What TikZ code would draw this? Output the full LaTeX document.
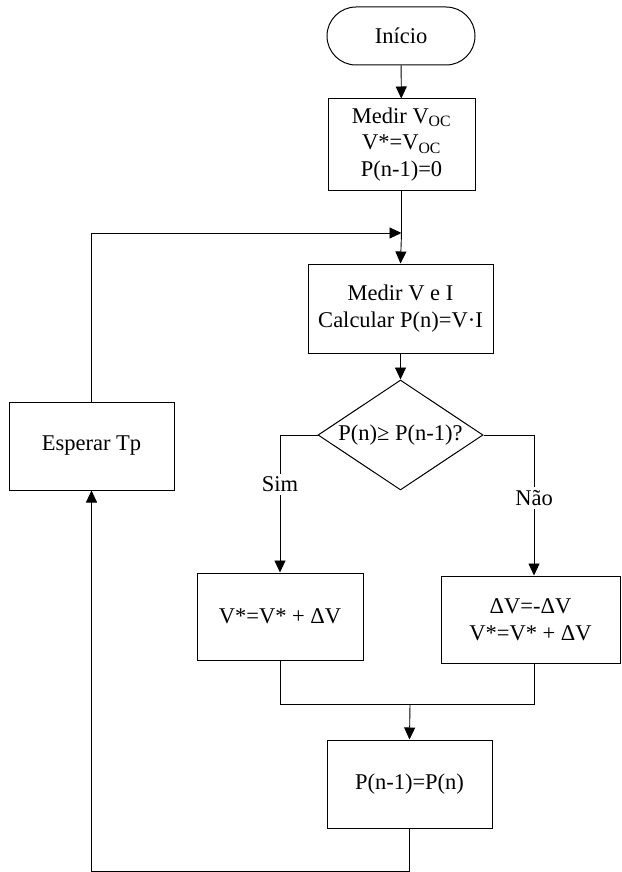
\documentclass[tikz,border=0pt]{standalone}
\usepackage{fontspec}
\setmainfont{Liberation Serif}
\usetikzlibrary{arrows.meta,shapes.geometric}
\begin{document}
\begin{tikzpicture}[x=1pt,y=-1pt,
  font=\fontsize{22.5}{26.5}\selectfont,
  box/.style={draw,line width=1pt,inner sep=0pt,align=center},
  conn/.style={line width=0.9pt},
  arr/.style={conn,-{Triangle[length=12pt,width=11pt]}},
  lbl/.style={fill=white,inner sep=3pt}]
\useasboundingbox (0,0) rectangle (621,872);
\node[box,rounded corners=29pt,minimum width=148pt,minimum height=58pt] (start) at (401,36) {Início};
\node[box,minimum width=147pt,minimum height=91pt] (b1) at (401.5,144.5) {Medir V\textsubscript{OC}\\V*=V\textsubscript{OC}\\P(n-1)=0};
\node[box,minimum width=185pt,minimum height=89pt] (b2) at (400.5,308.5) {Medir V e I\\Calcular P(n)=V·I};
\node[draw,line width=1pt,diamond,inner sep=0pt,minimum width=165pt,minimum height=110pt,label=center:{P(n)≥ P(n-1)?}] (dia) at (400.5,435) {};
\node[box,minimum width=166pt,minimum height=87pt] (b3) at (280,616.5) {V*=V* + ΔV};
\node[box,minimum width=179pt,minimum height=87pt] (b4) at (530.5,619.5) {ΔV=-ΔV\\V*=V* + ΔV};
\node[box,minimum width=165pt,minimum height=88pt] (b5) at (409.5,784) {P(n-1)=P(n)};
\node[box,minimum width=165pt,minimum height=88pt] (wait) at (91.5,446) {Esperar Tp};
\coordinate (join) at (401.5,233);
\coordinate (merge) at (410,704);
\draw[arr] (start) -- (b1);
\draw[conn] (b1) -- (join);
\draw[arr] (join) -- (b2.north);
\draw[arr] (b2) -- (dia);
\draw[arr] (dia.west) -| node[lbl,pos=0.68]{Sim} (b3.north);
\draw[arr] (dia.east) -| node[lbl,pos=0.724]{Não} ([xshift=3.5pt]b4.north);
\draw[conn] (b3.south) -- (280,704) -- (534,704) -- ([xshift=3.5pt]b4.south);
\draw[arr] (merge) -- (b5.north);
\draw[arr] (b5.south) -- ++(0,43) -| (wait.south);
\draw[arr] (wait.north) |- (join);
\end{tikzpicture}
\end{document}
